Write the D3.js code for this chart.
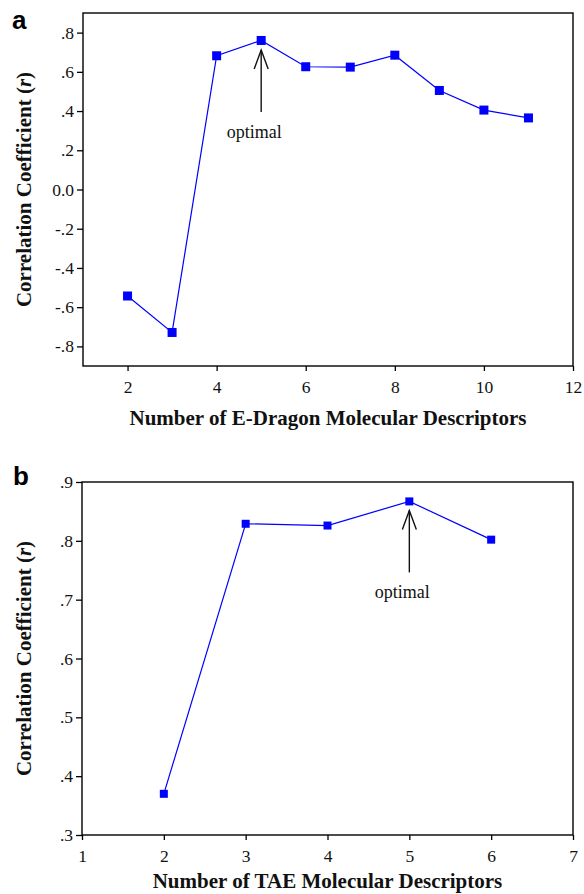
<!DOCTYPE html>
<html>
<head>
<meta charset="utf-8">
<script src="https://cdn.jsdelivr.net/npm/d3@7"></script>
<style>
  body { margin: 0; background: #fff; }
  svg { display: block; }
  .serif { font-family: "Liberation Serif", "Times New Roman", Times, "DejaVu Serif", serif; }
  .sans { font-family: "Liberation Sans", Arial, Helvetica, sans-serif; }
</style>
</head>
<body>
<svg id="chart" width="584" height="894"></svg>
<script>
// Panel a: correlation vs. number of E-Dragon descriptors
const edragonCounts = [2, 3, 4, 5, 6, 7, 8, 9, 10, 11];
const edragonR = [-0.543, -0.729, 0.682, 0.760, 0.626, 0.624, 0.685, 0.505, 0.405, 0.365];
const edragonXTicks = [2, 4, 6, 8, 10, 12];
const edragonYTicks = [0.8, 0.6, 0.4, 0.2, 0, -0.2, -0.4, -0.6, -0.8];
const edragonYLabels = [".8", ".6", ".4", ".2", "0.0", "-.2", "-.4", "-.6", "-.8"];
const edragonOptimal = 5;

// Panel b: correlation vs. number of TAE descriptors
const taeCounts = [2, 3, 4, 5, 6];
const taeR = [0.370, 0.829, 0.826, 0.867, 0.802];
const taeXTicks = [1, 2, 3, 4, 5, 6, 7];
const taeYTicks = [0.3, 0.4, 0.5, 0.6, 0.7, 0.8, 0.9];
const taeYLabels = [".3", ".4", ".5", ".6", ".7", ".8", ".9"];
const taeOptimal = 5;

const svg = d3.select("#chart");

function panel(cfg) {
  const g = svg.append("g");
  const x = d3.scaleLinear().domain(cfg.xDomain).range([cfg.left, cfg.right]);
  const y = d3.scaleLinear().domain(cfg.yDomain).range([cfg.bottom, cfg.top]);

  // y axis
  const yAxis = d3.axisLeft(y)
    .tickValues(cfg.yTicks)
    .tickFormat((d, i) => cfg.yLabels[i])
    .tickSize(6).tickSizeOuter(0).tickPadding(3);
  const ya = g.append("g").attr("transform", `translate(${cfg.left},0)`).call(yAxis);

  // x axis
  const xAxis = d3.axisBottom(x)
    .tickValues(cfg.xTicks)
    .tickFormat(d3.format("d"))
    .tickSize(5).tickSizeOuter(0).tickPadding(10);
  const xa = g.append("g").attr("transform", `translate(0,${cfg.bottom})`).call(xAxis);

  [ya, xa].forEach(a => {
    a.attr("font-family", null).attr("font-size", null);
    a.select(".domain").remove();
    a.selectAll("line").attr("stroke", "#000").attr("stroke-width", 1.3);
    a.selectAll("text").attr("class", "serif").attr("fill", "#111").style("font-size", "17.5px");
  });

  // plot frame
  g.append("rect")
    .attr("x", cfg.left).attr("y", cfg.top)
    .attr("width", cfg.right - cfg.left).attr("height", cfg.bottom - cfg.top)
    .attr("fill", "none").attr("stroke", "#000").attr("stroke-width", 1.4);

  // series line and square markers
  const pts = cfg.xs.map((v, i) => [v, cfg.ys[i]]);
  g.append("path")
    .datum(pts)
    .attr("fill", "none").attr("stroke", "#0000ff").attr("stroke-width", 1.2)
    .attr("d", d3.line().x(d => x(d[0])).y(d => y(d[1])));
  const s = cfg.marker;
  g.selectAll("rect.pt").data(pts).enter().append("rect")
    .attr("class", "pt")
    .attr("x", d => x(d[0]) - s / 2).attr("y", d => y(d[1]) - s / 2)
    .attr("width", s).attr("height", s)
    .attr("fill", "#0000ff");

  // "optimal" annotation arrow
  const oi = cfg.xs.indexOf(cfg.optimal);
  const ax = x(cfg.optimal);
  const tipY = y(cfg.ys[oi]) + s / 2 + 5;
  const botY = tipY + cfg.arrowLen;
  g.append("line")
    .attr("x1", ax).attr("x2", ax).attr("y1", tipY).attr("y2", botY)
    .attr("stroke", "#111").attr("stroke-width", 1.4);
  g.append("path")
    .attr("d", `M${ax - 7},${tipY + 19}L${ax},${tipY}L${ax + 7},${tipY + 19}`)
    .attr("fill", "none").attr("stroke", "#111").attr("stroke-width", 1.4);
  g.append("text")
    .attr("class", "serif")
    .attr("x", ax - 7).attr("y", botY + 26)
    .attr("text-anchor", "middle")
    .style("font-size", "18px").attr("fill", "#111")
    .text("optimal");

  // axis titles
  g.append("text")
    .attr("class", "serif")
    .attr("x", (cfg.left + cfg.right) / 2).attr("y", cfg.xTitleY)
    .attr("text-anchor", "middle")
    .style("font-size", "21px").style("font-weight", "bold")
    .attr("fill", "#111")
    .text(cfg.xTitle);
  const yt = g.append("text")
    .attr("class", "serif")
    .attr("transform", `translate(31,${(cfg.top + cfg.bottom) / 2}) rotate(-90)`)
    .attr("text-anchor", "middle")
    .style("font-size", "21px").style("font-weight", "bold")
    .attr("fill", "#111");
  yt.append("tspan").text("Correlation Coefficient (");
  yt.append("tspan").style("font-style", "italic").text("r");
  yt.append("tspan").text(")");

  // panel letter
  g.append("text")
    .attr("class", "sans")
    .attr("x", cfg.letterX).attr("y", cfg.letterY)
    .style("font-size", "26px").style("font-weight", "bold")
    .attr("fill", "#000")
    .text(cfg.letter);
}

panel({
  letter: "a", letterX: 12, letterY: 29,
  xDomain: [1, 12], yDomain: [-0.9, 0.9],
  left: 83, right: 573, top: 13, bottom: 366,
  xTicks: edragonXTicks, yTicks: edragonYTicks, yLabels: edragonYLabels,
  xs: edragonCounts, ys: edragonR, optimal: edragonOptimal,
  marker: 9, arrowLen: 62,
  xTitle: "Number of E-Dragon Molecular Descriptors", xTitleY: 425
});

panel({
  letter: "b", letterX: 13, letterY: 485,
  xDomain: [1, 7], yDomain: [0.3, 0.9],
  left: 82, right: 573, top: 482, bottom: 835,
  xTicks: taeXTicks, yTicks: taeYTicks, yLabels: taeYLabels,
  xs: taeCounts, ys: taeR, optimal: taeOptimal,
  marker: 8, arrowLen: 62,
  xTitle: "Number of TAE Molecular Descriptors", xTitleY: 888
});
</script>
</body>
</html>
